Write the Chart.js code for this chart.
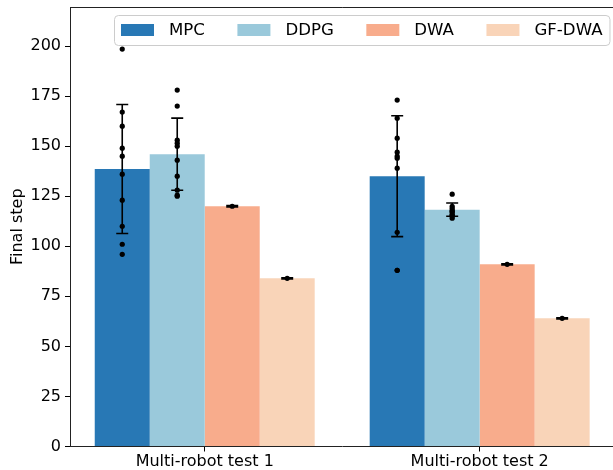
<!DOCTYPE html>
<html><head><meta charset="utf-8">
<script src="https://cdn.jsdelivr.net/npm/chart.js@4/dist/chart.umd.min.js"></script>
<style>html,body{margin:0;padding:0;overflow:hidden;background:#fff}</style>
</head><body>
<canvas id="c" width="617" height="470"></canvas>
<script>
// ---- data ----
const categories = ['Multi-robot test 1', 'Multi-robot test 2'];
const methods = ['MPC', 'DDPG', 'DWA', 'GF-DWA'];
const mpcMeans = [138.6, 135.0];
const mpcErrors = [32.2, 30.2];
const ddpgMeans = [146.0, 118.3];
const ddpgErrors = [18.0, 3.3];
const dwaMeans = [120.0, 91.0];
const dwaErrors = [0.3, 0.3];
const gfdwaMeans = [84.0, 64.0];
const gfdwaErrors = [0.3, 0.3];
const mpcPoints = [[198.5, 167, 160, 149, 145, 136, 123, 110, 101, 96],
                   [173, 164, 154, 147, 145, 144, 139, 107, 88, 88]];
const ddpgPoints = [[178, 170, 153, 151.5, 150, 143, 135, 128, 125.5, 125],
                    [126, 120, 119, 118, 117.5, 117, 116, 115.5, 115, 114]];
const dwaPoints = [[120], [91]];
const gfdwaPoints = [[84], [64]];
const yTicks = [0, 25, 50, 75, 100, 125, 150, 175, 200];
const colors = ['#2878B5', '#9AC9DB', '#F8AC8C', '#F9D4B8'];

const means = [mpcMeans, ddpgMeans, dwaMeans, gfdwaMeans];
const errors = [mpcErrors, ddpgErrors, dwaErrors, gfdwaErrors];
const points = [mpcPoints, ddpgPoints, dwaPoints, gfdwaPoints];

const CAT_PCT = 0.8;
const FONT = "'DejaVu Sans', sans-serif";
const n = methods.length;

const datasets = [];
methods.forEach((m, k) => {
  datasets.push({
    type: 'bar', label: m, order: 0,
    data: means[k].map((v, g) => ({x: g, y: v})),
    backgroundColor: colors[k], borderWidth: 0,
    categoryPercentage: CAT_PCT, barPercentage: 1.0,
    errors: errors[k]
  });
});
methods.forEach((m, k) => {
  const pts = [];
  points[k].forEach((arr, g) => {
    const xc = g + (k - (n - 1) / 2) * CAT_PCT / n;
    arr.forEach(v => pts.push({x: xc, y: v}));
  });
  datasets.push({
    type: 'scatter', label: m + ' samples', order: -1,
    data: pts, showLine: false,
    pointRadius: 2.6, pointHoverRadius: 2.6,
    backgroundColor: '#000', borderWidth: 0
  });
});

const decor = {
  id: 'decor',
  afterDatasetDraw(chart, args) {
    const ds = chart.data.datasets[args.index];
    if (ds.type !== 'bar') return;
    const ctx = chart.ctx, ys = chart.scales.y;
    ctx.save();
    ctx.strokeStyle = '#000';
    ctx.lineWidth = 1.6;
    args.meta.data.forEach((bar, j) => {
      const v = ds.data[j].y, e = ds.errors[j];
      const yt = ys.getPixelForValue(v + e), yb = ys.getPixelForValue(v - e);
      const cap = 6;
      ctx.beginPath();
      ctx.moveTo(bar.x, yt); ctx.lineTo(bar.x, yb);
      ctx.moveTo(bar.x - cap, yt); ctx.lineTo(bar.x + cap, yt);
      ctx.moveTo(bar.x - cap, yb); ctx.lineTo(bar.x + cap, yb);
      ctx.stroke();
    });
    ctx.restore();
  },
  afterDraw(chart) {
    const ctx = chart.ctx, a = chart.chartArea;
    ctx.save();
    // top spine
    ctx.strokeStyle = '#222'; ctx.lineWidth = 1;
    ctx.beginPath(); ctx.moveTo(a.left, a.top + 0.5); ctx.lineTo(a.right, a.top + 0.5); ctx.stroke();
    // legend
    ctx.font = '16.6px ' + FONT;
    const boxL = 114, boxT = 15, boxH = 30;
    const swW = 33, swH = 12, gapText = 15, colSp = 32.5, padL = 7, padR = 7;
    let x = boxL + padL;
    const items = [];
    methods.forEach((m, k) => {
      const w = ctx.measureText(m).width;
      items.push({x, w, m, k});
      x += swW + gapText + w + colSp;
    });
    const last = items[items.length - 1];
    const boxR = last.x + swW + gapText + last.w + padR;
    const r = 4;
    ctx.fillStyle = 'rgba(255,255,255,0.8)';
    ctx.strokeStyle = '#cccccc';
    ctx.beginPath();
    ctx.roundRect(boxL + 0.5, boxT + 0.5, boxR - boxL, boxH, r);
    ctx.fill(); ctx.stroke();
    const cy = boxT + boxH / 2;
    items.forEach(it => {
      ctx.fillStyle = colors[it.k];
      ctx.fillRect(it.x, cy - swH / 2, swW, swH);
      ctx.fillStyle = '#000';
      ctx.textBaseline = 'middle';
      ctx.textAlign = 'left';
      ctx.fillText(it.m, it.x + swW + gapText, cy + 1);
    });
    ctx.restore();
  }
};

new Chart(document.getElementById('c'), {
  type: 'bar',
  data: {datasets},
  options: {
    responsive: false,
    animation: false,
    devicePixelRatio: 1,
    layout: {padding: {top: 7, left: 0, right: 0, bottom: 0}},
    plugins: {legend: {display: false}, tooltip: {enabled: false}},
    scales: {
      x: {
        type: 'linear', min: -0.49, max: 1.49, offset: false,
        afterBuildTicks: s => { s.ticks = categories.map((c, i) => ({value: i})); },
        afterFit: s => { s.height = 23.5; s.paddingLeft = 0; s.paddingRight = 0; },
        ticks: {
          autoSkip: false, maxRotation: 0, padding: 1,
          color: '#000', font: {family: FONT, size: 16},
          callback: v => categories[Math.round(v)]
        },
        grid: {offset: false, drawOnChartArea: false, drawTicks: true, tickLength: 5, color: '#000', tickWidth: 1},
        border: {display: true, color: '#222', width: 1}
      },
      y: {
        min: 0, max: 219.5,
        afterBuildTicks: s => { s.ticks = yTicks.map(v => ({value: v})); },
        afterFit: s => { s.width = 70; s.paddingTop = 0; s.paddingBottom = 0; },
        ticks: {padding: 4, color: '#000', font: {family: FONT, size: 16}},
        grid: {offset: false, drawOnChartArea: false, drawTicks: true, tickLength: 5, color: '#000', tickWidth: 1},
        border: {display: true, color: '#222', width: 1},
        title: {display: true, text: 'Final step', color: '#000',
                font: {family: FONT, size: 16}, padding: {top: 8, bottom: 0}}
      }
    }
  },
  plugins: [decor]
});
</script>
</body></html>
